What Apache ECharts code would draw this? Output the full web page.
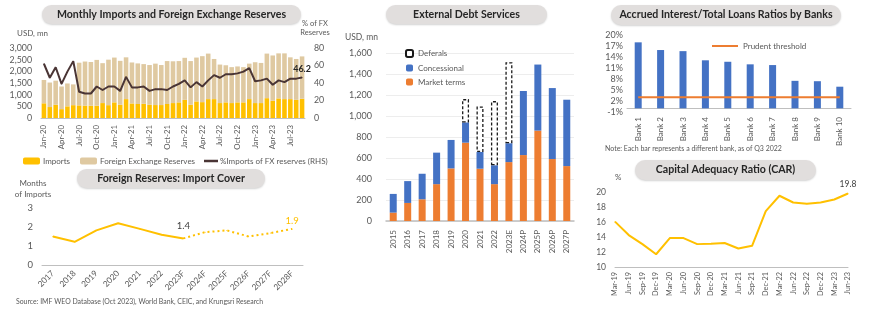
<!DOCTYPE html>
<html><head><meta charset="utf-8">
<script src="https://cdn.jsdelivr.net/npm/echarts@6/dist/echarts.min.js"></script>
<style>html,body{margin:0;padding:0;background:#fff}#c{width:870px;height:325px}</style>
</head><body><div id="c"></div>
<script>
// ---- Panel 1: Monthly imports & FX reserves ----
const months = ['Jan-20','Feb-20','Mar-20','Apr-20','May-20','Jun-20','Jul-20','Aug-20','Sep-20','Oct-20','Nov-20','Dec-20',
 'Jan-21','Feb-21','Mar-21','Apr-21','May-21','Jun-21','Jul-21','Aug-21','Sep-21','Oct-21','Nov-21','Dec-21',
 'Jan-22','Feb-22','Mar-22','Apr-22','May-22','Jun-22','Jul-22','Aug-22','Sep-22','Oct-22','Nov-22','Dec-22',
 'Jan-23','Feb-23','Mar-23','Apr-23','May-23','Jun-23','Jul-23','Aug-23','Sep-23'];
const imports = [630,470,570,380,500,550,540,530,525,525,640,550,670,570,810,625,600,610,570,555,555,600,640,670,
 780,570,710,680,810,810,640,670,640,670,670,810,640,640,850,740,840,810,810,780,825];
const fxReserves = [1000,1050,1030,970,980,890,1830,1890,1875,1965,1710,1950,1920,1880,1790,1755,1740,1700,1700,1775,1715,1840,1790,1770,
 1800,1870,1880,1970,1950,1720,1650,1590,1540,1540,1510,1520,1750,1720,1910,1940,1930,1960,1790,1750,1815];
const importRatio = [62,46,58,39,53,65,30,28,28,36,32,36,36,31,47,35,35,36,31,33,33,32,36,39,
 43,35,41,36,43,49,46,50,50,51,53,57,42,43,45,38,43,41,45,45,46.2];
const usdTicks = {min:0,max:3000,step:500};
const pctTicks = {min:0,max:80,step:20};

// ---- Panel 2: Import cover ----
const coverYears = ['2017','2018','2019','2020','2021','2022','2023F','2024F','2025F','2026F','2027F','2028F'];
const coverActual = [1.5,1.22,1.82,2.2,1.9,1.59,1.4,null,null,null,null,null];
const coverForecast = [null,null,null,null,null,null,1.4,1.73,1.82,1.5,1.68,1.9];

// ---- Panel 3: External debt services ----
const debtYears = ['2015','2016','2017','2018','2019','2020','2021','2022','2023E','2024P','2025P','2026P','2027P'];
const marketTerms = [80,172,207,351,501,746,498,351,561,628,861,590,523];
const concessional = [178,208,243,300,271,192,159,179,179,610,629,676,632];
const deferrals = [null,null,null,null,null,223,434,612,772,null,null,null,null];

// ---- Panel 4: Accrued interest / total loans ----
const banks = ['Bank 1','Bank 2','Bank 3','Bank 4','Bank 5','Bank 6','Bank 7','Bank 8','Bank 9','Bank 10'];
const accruedRatio = [18.0,15.9,15.6,13.1,12.7,12.0,11.8,7.5,7.4,5.9];
const prudentThreshold = 3;

// ---- Panel 5: CAR ----
const carQuarters = ['Mar-19','Jun-19','Sep-19','Dec-19','Mar-20','Jun-20','Sep-20','Dec-20','Mar-21','Jun-21','Sep-21','Dec-21',
 'Mar-22','Jun-22','Sep-22','Dec-22','Mar-23','Jun-23'];
const car = [16.05,14.26,13.05,11.7,13.86,13.86,13.05,13.1,13.2,12.47,12.83,17.44,19.5,18.6,18.43,18.6,19.0,19.8];

const FONT = 'Lato';
const AX = '#595959';
const YEL = '#FFC000', TAN = '#DFC9A1', BRN = '#4A3535', BLUE = '#4472C4', ORG = '#ED7D31';
const axLine = {show:true, lineStyle:{color:'#BFBFBF', width:1}};

function pill(x,y,w,h,text){
  return [
    {type:'rect', shape:{x:x,y:y,width:w,height:h,r:h/2}, style:{fill:'#E1DEDD', shadowBlur:2, shadowColor:'rgba(0,0,0,0.18)', shadowOffsetY:1}},
    {type:'text', x:x+w/2, y:y+h/2, style:{text:text, fill:'#262626', font:'bold 10.6px '+FONT, textAlign:'center', textVerticalAlign:'middle'}}
  ];
}
function txt(x,y,t,size,align,color){
  return {type:'text', x:x, y:y, style:{text:t, fill:color||AX, font:(size||8)+'px '+FONT, textAlign:align||'left', textVerticalAlign:'middle'}};
}

const chart = echarts.init(document.getElementById('c'), null, {renderer:'canvas'});
const lbl = (extra)=>Object.assign({color:AX, fontFamily:FONT, fontSize:8.5}, extra||{});
const legTxt = {color:AX, fontSize:8, fontFamily:FONT};

const option = {
  animation:false,
  textStyle:{fontFamily:FONT},
  grid:[
    {left:41, right:565, top:48, bottom:207},
    {left:42, right:567, top:208, bottom:60},
    {left:386, right:296, top:53, bottom:104},
    {left:627, right:19, top:35, bottom:213},
    {left:615, right:22, top:192, bottom:58}
  ],
  xAxis:[
    {gridIndex:0, type:'category', data:months, axisLine:axLine, axisTick:{show:false},
     axisLabel:lbl({rotate:90, interval:2, margin:7, fontSize:7.8})},
    {gridIndex:1, type:'category', data:coverYears, axisLine:axLine, axisTick:{show:false},
     axisLabel:lbl({rotate:45, interval:0, margin:7, fontSize:8.3})},
    {gridIndex:2, type:'category', data:debtYears, axisLine:{show:true, lineStyle:{color:'#BFBFBF', width:1.5}}, axisTick:{show:false},
     axisLabel:lbl({rotate:90, interval:0, margin:9, fontSize:8})},
    {gridIndex:3, type:'category', data:banks, axisLine:axLine, axisTick:{show:false},
     axisLabel:lbl({rotate:90, interval:0, margin:5, fontSize:8})},
    {gridIndex:4, type:'category', data:carQuarters, boundaryGap:false, axisLine:axLine, axisTick:{show:false},
     axisLabel:lbl({rotate:90, interval:0, margin:5, fontSize:7.3})}
  ],
  yAxis:[
    {gridIndex:0, type:'value', min:usdTicks.min, max:usdTicks.max, interval:usdTicks.step, splitLine:{show:false},
     axisLine:{show:false}, axisTick:{show:false}, axisLabel:lbl({margin:9, fontSize:8.8})},
    {gridIndex:0, type:'value', position:'right', min:pctTicks.min, max:pctTicks.max, interval:pctTicks.step, splitLine:{show:false},
     axisLine:{show:false}, axisTick:{show:false}, axisLabel:lbl({margin:9, fontSize:8.8})},
    {gridIndex:1, type:'value', min:0, max:3, interval:1, splitLine:{show:false},
     axisLine:{show:false}, axisTick:{show:false}, axisLabel:lbl({margin:9, fontSize:9.5})},
    {gridIndex:2, type:'value', min:0, max:1600, interval:200, splitLine:{show:true, lineStyle:{color:'#EDEDED'}},
     axisLine:{show:false}, axisTick:{show:false}, axisLabel:lbl({margin:14, fontSize:9})},
    {gridIndex:3, type:'value', min:-1, max:20, interval:3, splitLine:{show:false},
     axisLine:{show:false}, axisTick:{show:false}, axisLabel:lbl({margin:4, fontSize:9, formatter:'{value}%'})},
    {gridIndex:4, type:'value', min:10, max:20, interval:2, splitLine:{show:false},
     axisLine:{show:false}, axisTick:{show:false}, axisLabel:lbl({margin:9, fontSize:8.5})}
  ],
  legend:[
    {left:18, top:152, itemWidth:17, itemHeight:7, itemGap:0, data:['Imports'], textStyle:Object.assign({padding:[0,0,0,-2]}, legTxt)},
    {left:75, top:152, itemWidth:17, itemHeight:7, itemGap:0, data:['Foreign Exchange Reserves'], textStyle:Object.assign({padding:[0,0,0,-2]}, legTxt)},
    {left:199, top:152, itemWidth:14, itemHeight:2.5, itemGap:0, data:[{name:'%Imports of FX reserves (RHS)', icon:'rect'}], textStyle:Object.assign({padding:[0,0,0,-3]}, legTxt)},
    {left:400, top:44, orient:'vertical', itemWidth:7, itemHeight:7, itemGap:6, data:['Deferals','Concessional','Market terms'], textStyle:legTxt},
    {left:707, top:37, itemWidth:26, itemHeight:2, data:[{name:'Prudent threshold', icon:'rect'}], textStyle:legTxt}
  ],
  series:[
    {name:'Imports', type:'bar', xAxisIndex:0, yAxisIndex:0, stack:'m', data:imports, itemStyle:{color:YEL}, barCategoryGap:'22%'},
    {name:'Foreign Exchange Reserves', type:'bar', xAxisIndex:0, yAxisIndex:0, stack:'m', data:fxReserves, itemStyle:{color:TAN}, barCategoryGap:'22%'},
    {name:'%Imports of FX reserves (RHS)', type:'line', xAxisIndex:0, yAxisIndex:1, data:importRatio.map((v,i)=> i===importRatio.length-1 ?
       {value:v, label:{show:true, position:'top', distance:3, offset:[0,0], fontWeight:'bold', color:'#262626', fontSize:9, fontFamily:FONT}} : v),
     symbol:'circle', symbolSize:1, lineStyle:{color:BRN, width:2}, itemStyle:{color:BRN}},

    {name:'cover', type:'line', xAxisIndex:1, yAxisIndex:2, data:coverActual.map((v,i)=> i===6 ?
       {value:v, label:{show:true, position:'top', distance:7, color:'#404040', fontSize:9.5, fontFamily:FONT}} : v),
     symbol:'circle', symbolSize:1, lineStyle:{color:YEL, width:2}, itemStyle:{color:YEL}},
    {name:'coverF', type:'line', xAxisIndex:1, yAxisIndex:2, data:coverForecast.map((v,i)=> i===coverForecast.length-1 ?
       {value:v, label:{show:true, position:'top', distance:2, color:YEL, fontSize:9.5, fontFamily:FONT}} : v),
     symbol:'circle', symbolSize:1, lineStyle:{color:YEL, width:2, type:[2,3]}, itemStyle:{color:YEL}},

    {name:'Market terms', type:'bar', xAxisIndex:2, yAxisIndex:3, stack:'d', data:marketTerms, barWidth:7, itemStyle:{color:ORG}},
    {name:'Concessional', type:'bar', xAxisIndex:2, yAxisIndex:3, stack:'d', data:concessional, barWidth:7, itemStyle:{color:BLUE}},
    {name:'Deferals', type:'bar', xAxisIndex:2, yAxisIndex:3, stack:'d', data:deferrals, barWidth:7,
     itemStyle:{color:'#fff', borderColor:'#1a1a1a', borderWidth:1.3, borderType:[3,2]}},

    {name:'Accrued', type:'bar', xAxisIndex:3, yAxisIndex:4, data:accruedRatio, barWidth:7, itemStyle:{color:BLUE}},
    {name:'Prudent threshold', type:'line', xAxisIndex:3, yAxisIndex:4, data:banks.map(()=>prudentThreshold),
     symbol:'none', lineStyle:{color:ORG, width:2}, itemStyle:{color:ORG}},

    {name:'CAR', type:'line', xAxisIndex:4, yAxisIndex:5, data:car.map((v,i)=> i===car.length-1 ?
       {value:v, label:{show:true, position:'top', distance:4, color:'#404040', fontSize:8.5, fontFamily:FONT}} : v),
     symbol:'circle', symbolSize:1, lineStyle:{color:YEL, width:2}, itemStyle:{color:YEL}}
  ],
  graphic:[].concat(
    pill(42,5,259,19,'Monthly Imports and Foreign Exchange Reserves'),
    pill(77,169,188,19,'Foreign Reserves: Import Cover'),
    pill(386,5,161,19,'External Debt Services'),
    pill(611,5,230,20,'Accrued Interest/Total Loans Ratios by Banks'),
    pill(635,160,181,20,'Capital Adequacy Ratio (CAR)'),
    [
      txt(17,33,'USD, mn',8),
      txt(315,24,'% of FX',7.5,'center'),
      txt(315,33,'Reserves',7.5,'center'),
      txt(33,183,'Months',8,'center'),
      txt(33,194,'of Imports',8,'center'),
      txt(16,302,'Source: IMF WEO Database (Oct 2023), World Bank, CEIC, and Krungsri Research',6.9),
      txt(345,37,'USD, mn',8.5),
      txt(605,149,'Note: Each bar represents a different bank, as of Q3 2022',7),
      txt(615,177,'%',8)
    ]
  )
};
chart.setOption(option);
</script></body></html>
